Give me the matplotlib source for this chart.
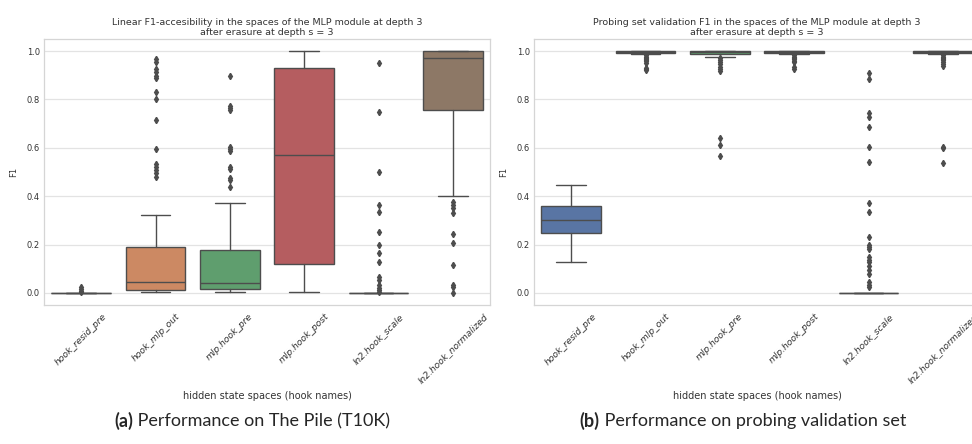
import matplotlib
matplotlib.use("Agg")
import matplotlib.pyplot as plt
import seaborn as sns

# ---------------- data ----------------
categories = ["hook_resid_pre", "hook_mlp_out", "mlp.hook_pre",
              "mlp.hook_post", "ln2.hook_scale", "ln2.hook_normalized"]

# Panel (a): Performance on The Pile (T10K)
a_q1 = [0.0, 0.011, 0.017, 0.121, 0.0, 0.757]
a_med = [0.0, 0.047, 0.041, 0.571, 0.0, 0.972]
a_q3 = [0.0, 0.188, 0.178, 0.930, 0.0, 1.0]
a_lo = [0.0, 0.003, 0.002, 0.004, 0.0, 0.402]
a_hi = [0.0, 0.322, 0.370, 1.0, 0.0, 1.0]
a_fliers = [
    [0.024, 0.018, 0.008, 0.002],
    [0.967, 0.955, 0.926, 0.912, 0.895, 0.888, 0.831, 0.802, 0.713, 0.596,
     0.533, 0.520, 0.510, 0.495, 0.480],
    [0.897, 0.774, 0.765, 0.755, 0.603, 0.595, 0.585, 0.521, 0.512, 0.475,
     0.465, 0.438],
    [],
    [0.950, 0.749, 0.498, 0.365, 0.333, 0.250, 0.200, 0.167, 0.127, 0.065,
     0.052, 0.034, 0.020, 0.010, 0.003],
    [0.374, 0.365, 0.351, 0.331, 0.245, 0.207, 0.116, 0.031, 0.025, 0.0],
]

# Panel (b): Performance on probing validation set
b_q1 = [0.249, 0.993, 0.989, 0.993, 0.0, 0.993]
b_med = [0.303, 0.998, 0.997, 0.998, 0.0, 0.998]
b_q3 = [0.358, 1.0, 1.0, 1.0, 0.0, 1.0]
b_lo = [0.127, 0.988, 0.976, 0.988, 0.0, 0.988]
b_hi = [0.445, 1.0, 1.0, 1.0, 0.0, 1.0]
b_fliers = [
    [],
    [0.982, 0.977, 0.972, 0.967, 0.962, 0.957, 0.952, 0.930, 0.925, 0.920],
    [0.970, 0.962, 0.955, 0.945, 0.935, 0.925, 0.918, 0.639, 0.612, 0.565],
    [0.982, 0.977, 0.972, 0.967, 0.960, 0.953, 0.935, 0.928],
    [0.909, 0.885, 0.745, 0.728, 0.685, 0.602, 0.540, 0.373, 0.333, 0.231,
     0.200, 0.190, 0.180, 0.150, 0.138, 0.127, 0.113, 0.096, 0.079, 0.044,
     0.034, 0.023],
    [0.982, 0.977, 0.972, 0.967, 0.962, 0.955, 0.948, 0.940, 0.605, 0.598,
     0.537],
]

titles = ["Linear F1-accesibility in the spaces of the MLP module at depth 3\nafter erasure at depth s = 3",
          "Probing set validation F1 in the spaces of the MLP module at depth 3\nafter erasure at depth s = 3"]
captions = [("(a)", " Performance on The Pile (T10K)"),
            ("(b)", " Performance on probing validation set")]
yticks = [0.0, 0.2, 0.4, 0.6, 0.8, 1.0]

# ---------------- style ----------------
sns.set_theme(style="whitegrid")
plt.rcParams["font.family"] = ["DejaVu Sans"]
palette = sns.color_palette("deep", len(categories), desat=0.75)
gray = "#4d4d4d"
lw = 1.0

fig = plt.figure(figsize=(9.72, 4.44), dpi=100)
W, H = 972.0, 444.0
ax_left_px = [44, 534]
ax_w_px = 446
ax_top_px, ax_bot_px = 39, 305

panels = [
    (a_q1, a_med, a_q3, a_lo, a_hi, a_fliers),
    (b_q1, b_med, b_q3, b_lo, b_hi, b_fliers),
]

for i, (q1, med, q3, lo, hi, fl) in enumerate(panels):
    ax = fig.add_axes([ax_left_px[i] / W, 1 - ax_bot_px / H,
                       ax_w_px / W, (ax_bot_px - ax_top_px) / H])
    stats = []
    for j, c in enumerate(categories):
        stats.append(dict(label=c, q1=q1[j], med=med[j], q3=q3[j],
                          whislo=lo[j], whishi=hi[j], fliers=fl[j]))
    bp = ax.bxp(stats, positions=range(len(categories)), widths=0.8,
                patch_artist=True, showfliers=True,
                boxprops=dict(edgecolor=gray, linewidth=lw),
                medianprops=dict(color=gray, linewidth=lw),
                whiskerprops=dict(color=gray, linewidth=lw),
                capprops=dict(color=gray, linewidth=lw),
                flierprops=dict(marker="d", markersize=3.2,
                                markerfacecolor=gray, markeredgecolor=gray,
                                linestyle="none"))
    for j, patch in enumerate(bp["boxes"]):
        patch.set_facecolor(palette[j])
    ax.set_xlim(-0.5, len(categories) - 0.5)
    ax.set_ylim(-0.05, 1.05)
    ax.set_yticks(yticks)
    ax.set_yticklabels([f"{t:.1f}" for t in yticks], fontsize=6, color="#333333")
    ax.set_xticks(range(len(categories)))
    ax.set_xticklabels(categories, rotation=45, fontsize=6.6, color="#333333",
                       fontstyle="italic")
    ax.tick_params(axis="both", length=0, pad=3)
    ax.tick_params(axis="x", pad=5)
    ax.grid(axis="x", visible=False)
    ax.grid(axis="y", color="#e3e3e3", linewidth=0.9)
    for s in ax.spines.values():
        s.set_color("#d5d5d5")
        s.set_linewidth(0.9)
    ax.set_ylabel("F1", fontsize=6, color="#333333", labelpad=6)
    ax.set_xlabel("hidden state spaces (hook names)", fontsize=7,
                  color="#333333", labelpad=4)
    ax.set_title(titles[i], fontsize=6.8, color="#333333", pad=3,
                 linespacing=1.1)

# captions, centred under each panel
renderer = fig.canvas.get_renderer()
cap_center = [252, 743]
cap_y = 1 - 421 / H
for i, (bold, rest) in enumerate(captions):
    t1 = fig.text(0, cap_y, bold, fontsize=13, fontweight="bold",
                  ha="left", va="center", family=["Lato", "DejaVu Sans"])
    t2 = fig.text(0, cap_y, rest, fontsize=13, ha="left", va="center",
                  family=["Lato", "DejaVu Sans"])
    w1 = t1.get_window_extent(renderer).width
    w2 = t2.get_window_extent(renderer).width
    x0 = cap_center[i] - (w1 + w2) / 2
    t1.set_x(x0 / W)
    t2.set_x((x0 + w1) / W)

fig.savefig("out.png", dpi=100)
